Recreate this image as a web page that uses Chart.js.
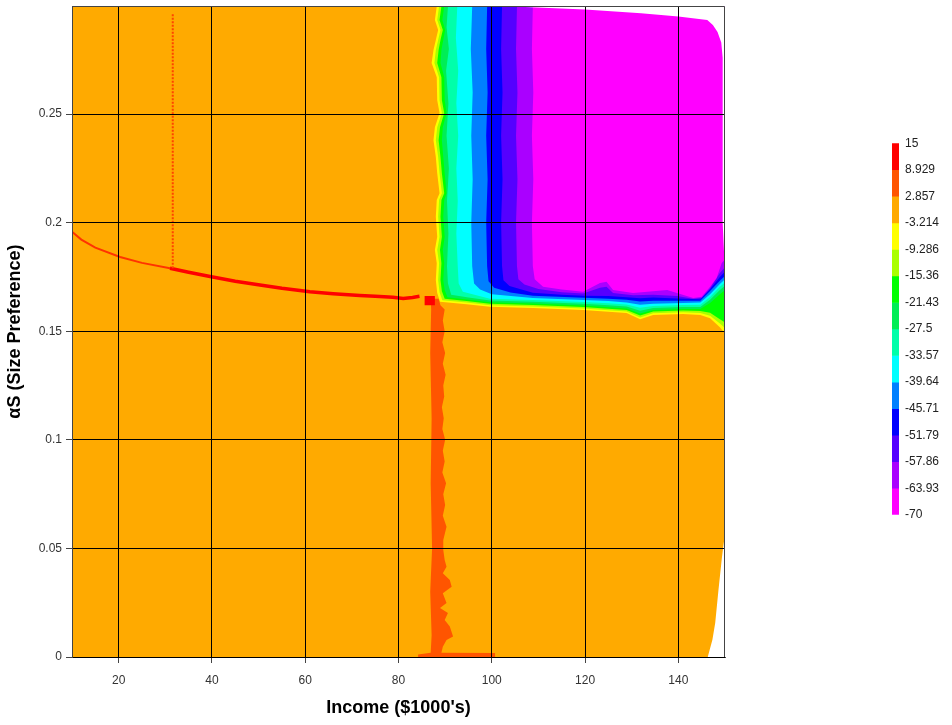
<!DOCTYPE html>
<html>
<head>
<meta charset="utf-8">
<title>Income vs size preference</title>
<script src="https://cdn.jsdelivr.net/npm/chart.js@4.4.1/dist/chart.umd.min.js"></script>
<style>
  body { margin: 0; background: #fff; overflow: hidden; }
  #wrap { position: relative; width: 952px; height: 725px; overflow: hidden; }
  #contourChart { position: absolute; left: 0; top: -5px; }
  #scaleBar { position: absolute; left: 880px; top: 130px; }
</style>
</head>
<body>
<div id="wrap">
  <canvas id="contourChart" width="952" height="730"></canvas>
  <canvas id="scaleBar" width="69" height="398"></canvas>
</div>
<script>
// Axis ranges and ticks
const X_MIN = 10, X_MAX = 150;
const Y_MIN = 0, Y_MAX = 0.2997;
const xTicks = [20, 40, 60, 80, 100, 120, 140];
const yTicks = [0, 0.05, 0.1, 0.15, 0.2, 0.25];

// Contour levels (top to bottom of the colour scale) and the colour of each band
const levels = [15, 8.929, 2.857, -3.214, -9.286, -15.36, -21.43, -27.5, -33.57, -39.64, -45.71, -51.79, -57.86, -63.93, -70];
const bandColors = ['#FF0000', '#FF5500', '#FFAA00', '#FFFF00', '#AAFF00', '#00FF00', '#00EE55',
                    '#00FFAA', '#00FFFF', '#0080FF', '#0000FF', '#5500FF', '#AA00FF', '#FF00FF'];

// Area where the surface was computed (orange band, -3.214 .. 2.857)
const domainEdge = [[10, 0], [146.3, 0], [147.3, 0.008], [147.9, 0.0157], [148.6, 0.0308], [149.3, 0.0450],
                    [149.7, 0.0520], [150, 0.0560], [150, Y_MAX], [10, Y_MAX]];

// Contour lines, each one runs down from the top edge and turns right towards x = 150
const edgeYellow = [[88.2, Y_MAX], [87.8, 0.2933], [88.5, 0.2887], [88.0, 0.2841], [87.5, 0.2795], [87.1, 0.2735],
  [88.2, 0.2670], [88.3, 0.2564], [88.8, 0.2505], [87.8, 0.2440], [87.5, 0.2380], [88.0, 0.2302], [88.3, 0.2228],
  [88.8, 0.2136], [88.2, 0.2104], [88.0, 0.2027], [88.3, 0.1935], [87.8, 0.1874], [88.2, 0.1813], [88.0, 0.1736],
  [88.3, 0.1676], [88.9, 0.1636], [94.6, 0.1625], [99.6, 0.1613], [108.8, 0.1607], [119.6, 0.1598], [125.0, 0.1590],
  [128.9, 0.1584], [131.8, 0.1555], [134.6, 0.1575], [141.0, 0.1580], [144.7, 0.1575], [146.8, 0.1560],
  [148.9, 0.1519], [150, 0.1490]];
const edgeLime = [[88.7, Y_MAX], [88.3, 0.2933], [89.0, 0.2887], [88.5, 0.2841], [88.0, 0.2795], [87.7, 0.2735],
  [88.7, 0.2670], [88.8, 0.2564], [89.3, 0.2505], [88.3, 0.2440], [88.0, 0.2380], [88.5, 0.2302], [88.8, 0.2228],
  [89.3, 0.2136], [88.7, 0.2104], [88.5, 0.2027], [88.8, 0.1935], [88.3, 0.1874], [88.7, 0.1813], [88.5, 0.1736],
  [88.8, 0.1680], [89.4, 0.1643], [94.6, 0.1632], [99.6, 0.1620], [108.8, 0.1614], [119.6, 0.1605], [125.0, 0.1597],
  [128.9, 0.1591], [131.8, 0.1564], [134.6, 0.1583], [141.0, 0.1588], [144.7, 0.1584], [146.8, 0.1572],
  [148.9, 0.1536], [150, 0.1515]];
const edgeGreen = [[89.2, Y_MAX], [88.8, 0.2933], [89.5, 0.2887], [89.0, 0.2841], [88.6, 0.2795], [88.3, 0.2735],
  [89.2, 0.2670], [89.3, 0.2564], [89.8, 0.2505], [88.9, 0.2440], [88.6, 0.2380], [89.0, 0.2302], [89.3, 0.2228],
  [89.8, 0.2136], [89.2, 0.2104], [89.0, 0.2027], [89.3, 0.1935], [88.9, 0.1874], [89.2, 0.1813], [89.0, 0.1736],
  [89.3, 0.1684], [89.9, 0.1650], [94.6, 0.1639], [99.6, 0.1627], [108.8, 0.1621], [119.6, 0.1612], [125.0, 0.1604],
  [128.9, 0.1598], [131.8, 0.1573], [134.6, 0.1591], [141.0, 0.1596], [144.7, 0.1593], [146.8, 0.1585],
  [148.9, 0.1555], [150, 0.1540]];
const edgeSpring = [[89.8, Y_MAX], [89.4, 0.2933], [90.0, 0.2887], [89.6, 0.2841], [89.2, 0.2795], [89.0, 0.2735],
  [89.8, 0.2670], [89.9, 0.2564], [90.3, 0.2505], [89.5, 0.2440], [89.3, 0.2380], [89.6, 0.2302], [89.9, 0.2228],
  [90.3, 0.2136], [89.8, 0.2104], [89.6, 0.2027], [89.9, 0.1935], [89.5, 0.1874], [89.8, 0.1813], [89.6, 0.1736],
  [89.9, 0.1690], [90.5, 0.1657], [94.6, 0.1646], [99.6, 0.1634], [108.8, 0.1628], [119.6, 0.1619], [125.0, 0.1611],
  [128.9, 0.1605], [131.8, 0.1582], [134.6, 0.1598], [141.0, 0.1603], [144.7, 0.1602], [146.8, 0.1630],
  [148.9, 0.1670], [150, 0.1690]];
const edgeAqua = [[90.6, Y_MAX], [90.3, 0.2900], [90.8, 0.2800], [90.2, 0.2700], [90.7, 0.2550], [90.3, 0.2400],
  [90.8, 0.2250], [90.4, 0.2100], [90.7, 0.1950], [90.4, 0.1800], [90.6, 0.1720], [91.3, 0.1668], [95.0, 0.1655],
  [99.6, 0.1642], [108.8, 0.1636], [119.6, 0.1627], [125.0, 0.1620], [128.9, 0.1614], [131.8, 0.1595],
  [134.6, 0.1607], [141.0, 0.1612], [144.7, 0.1612], [146.8, 0.1645], [148.9, 0.1690], [150, 0.1710]];
const edgeCyan = [[92.6, Y_MAX], [92.3, 0.2850], [92.8, 0.2700], [92.4, 0.2550], [92.8, 0.2400], [92.4, 0.2250],
  [92.7, 0.2100], [92.4, 0.1950], [92.7, 0.1800], [92.9, 0.1720], [93.8, 0.1682], [99.6, 0.1650], [108.8, 0.1644],
  [119.6, 0.1635], [125.0, 0.1629], [128.9, 0.1623], [131.8, 0.1608], [134.6, 0.1616], [141.0, 0.1621],
  [144.7, 0.1622], [146.8, 0.1658], [148.9, 0.1705], [150, 0.1725]];
const edgeAzure = [[95.8, Y_MAX], [95.5, 0.2800], [95.9, 0.2600], [95.6, 0.2400], [95.9, 0.2200], [95.6, 0.2000],
  [95.8, 0.1800], [96.2, 0.1720], [97.5, 0.1692], [100.0, 0.1670], [108.8, 0.1653], [119.6, 0.1644],
  [125.0, 0.1639], [128.9, 0.1633], [131.8, 0.1622], [134.6, 0.1627], [141.0, 0.1630], [144.7, 0.1632],
  [146.8, 0.1670], [148.9, 0.1718], [150, 0.1740]];
const edgeBlue = [[99.0, Y_MAX], [98.8, 0.2800], [99.1, 0.2600], [98.8, 0.2400], [99.1, 0.2200], [98.8, 0.2000],
  [99.0, 0.1800], [99.3, 0.1730], [100.5, 0.1700], [104.0, 0.1678], [108.8, 0.1664], [119.6, 0.1654],
  [125.0, 0.1650], [128.9, 0.1645], [131.8, 0.1637], [134.6, 0.1640], [141.0, 0.1640], [144.7, 0.1640],
  [146.8, 0.1685], [148.9, 0.1733], [150, 0.1755]];
const edgeViolet = [[102.2, Y_MAX], [102.0, 0.2800], [102.3, 0.2600], [102.0, 0.2400], [102.3, 0.2200],
  [102.0, 0.2000], [102.2, 0.1800], [102.5, 0.1735], [103.8, 0.1708], [108.8, 0.1677], [115.0, 0.1668],
  [119.6, 0.1664], [125.0, 0.1662], [128.9, 0.1657], [131.8, 0.1652], [134.6, 0.1655], [141.0, 0.1650],
  [144.7, 0.1648], [146.8, 0.1693], [148.9, 0.1750], [150, 0.1775]];
const edgePurple = [[105.4, Y_MAX], [105.2, 0.2800], [105.5, 0.2600], [105.2, 0.2400], [105.5, 0.2200],
  [105.2, 0.2000], [105.4, 0.1800], [105.7, 0.1740], [107.0, 0.1715], [110.0, 0.1695], [115.0, 0.1680],
  [119.6, 0.1674], [123.2, 0.1700], [124.6, 0.1705], [126.0, 0.1676], [130.3, 0.1666], [134.6, 0.1668],
  [139.7, 0.1662], [143.2, 0.1650], [145.0, 0.1654], [146.8, 0.1698], [148.9, 0.1768], [150, 0.1795]];
const edgeMagenta = [[108.8, Y_MAX], [108.6, 0.2800], [108.9, 0.2600], [108.6, 0.2400], [108.9, 0.2200],
  [108.6, 0.2000], [108.8, 0.1800], [109.2, 0.1740], [111.0, 0.1705], [115.0, 0.1692], [119.6, 0.1682],
  [123.2, 0.1722], [124.6, 0.1728], [126.0, 0.1690], [130.3, 0.1676], [137.6, 0.1690], [139.7, 0.1676],
  [143.2, 0.1653], [145.0, 0.1659], [146.8, 0.1705], [148.2, 0.1745], [149.3, 0.1814], [150, 0.1830]];
const contourEdges = [edgeYellow, edgeLime, edgeGreen, edgeSpring, edgeAqua, edgeCyan,
                      edgeAzure, edgeBlue, edgeViolet, edgePurple, edgeMagenta];

// No data in the top right corner
const emptyCorner = [[103.3, Y_MAX], [120, 0.2982], [132, 0.2965], [140, 0.2950], [146.2, 0.2933], [147.4, 0.2910],
  [148.4, 0.2878], [149.2, 0.2830], [149.5, 0.2760], [149.5, 0.2400], [149.5, 0.2000], [149.8, 0.1860],
  [150, 0.1840], [150, Y_MAX]];

// Ridge around income ~88 (band 2.857 .. 8.929)
const ridgeBand = [[86.9, 0.1650], [88.6, 0.1650], [89.0, 0.1620], [89.9, 0.1600], [89.5, 0.1550], [89.9, 0.1500],
  [89.4, 0.1450], [90.0, 0.1400], [89.5, 0.1350], [90.1, 0.1300], [89.6, 0.1250], [89.8, 0.1200], [89.3, 0.1150],
  [89.7, 0.1100], [89.4, 0.1050], [90.0, 0.1000], [89.5, 0.0950], [89.9, 0.0900], [89.4, 0.0850], [90.2, 0.0800],
  [89.6, 0.0750], [90.0, 0.0700], [89.5, 0.0650], [90.3, 0.0600], [89.6, 0.0539], [89.6, 0.0493], [89.9, 0.0447],
  [90.3, 0.0416], [89.5, 0.0386], [91.0, 0.0355], [91.4, 0.0324], [89.5, 0.0294], [90.3, 0.0249], [88.9, 0.0226],
  [90.6, 0.0203], [89.9, 0.0170], [91.0, 0.0140], [91.7, 0.0094], [90.3, 0.0078], [89.5, 0.0047], [89.2, 0.0020],
  [100.7, 0.0018], [100.7, 0], [84.2, 0], [84.2, 0.0012], [86.9, 0.0020], [87.1, 0.0100], [86.8, 0.0300],
  [87.2, 0.0500], [86.9, 0.0800], [87.1, 0.1100], [86.8, 0.1400], [87.0, 0.1600]];
const ridgePeak = [[85.6, 0.1662], [87.8, 0.1662], [87.8, 0.1620], [85.6, 0.1620]];

// Thin ridge lines (band 8.929 .. 15)
const ridgeCurveLeft = [[10, 0.1958], [12, 0.1922], [15, 0.1885], [20.3, 0.1842], [25, 0.1815], [31, 0.1790]];
const ridgeCurveRight = [[31, 0.1790], [35, 0.1772], [39.6, 0.1752], [45, 0.1730], [50.3, 0.1713], [55, 0.1698],
  [61, 0.1682], [66, 0.1673], [71.7, 0.1665], [75, 0.1661], [78.8, 0.1657], [81, 0.1651], [83, 0.1656], [84.5, 0.1661]];
const ridgeDots = [[31.6, 0.1790], [31.6, 0.2960]];

const tickFont = { family: "'Liberation Sans', Arial, sans-serif", size: 12 };
const titleFont = { family: "'Liberation Sans', Arial, sans-serif", size: 18, weight: 'bold' };

const toXY = pts => pts.map(p => ({ x: p[0], y: p[1] }));

// Filled polygon drawn as a closed line
function area(points, color) {
  return { data: toXY(points), backgroundColor: color, borderWidth: 0, pointRadius: 0, fill: 'shape', tension: 0 };
}
function stroke(points, color, width, dash) {
  return { data: toXY(points), borderColor: color, borderWidth: width, borderDash: dash || [],
           pointRadius: 0, fill: false, tension: 0 };
}

let datasets = [area(domainEdge, bandColors[2])];
contourEdges.forEach((edge, i) => {
  datasets.push(area(edge.concat([[X_MAX, Y_MAX]]), bandColors[i + 3]));
});
datasets.push(area(emptyCorner, '#FFFFFF'));
datasets.push(area(ridgeBand, bandColors[1]));
datasets.push(area(ridgePeak, bandColors[0]));
datasets.push(stroke(ridgeCurveLeft, '#FF3300', 2));
datasets.push(stroke(ridgeCurveRight, '#FF0000', 3.5));
datasets.push(stroke(ridgeDots, '#FF4400', 2, [2, 1.5]));
// first in the list is painted first
datasets.forEach((d, i) => { d.order = datasets.length - i; });

// top and right edges of the plot
const plotFrame = {
  id: 'plotFrame',
  afterDraw(chart) {
    const { ctx, chartArea: a } = chart;
    ctx.save();
    ctx.strokeStyle = '#444';
    ctx.lineWidth = 1;
    ctx.beginPath();
    ctx.moveTo(Math.round(a.left), Math.round(a.top) + 0.5);
    ctx.lineTo(Math.round(a.right) - 0.5, Math.round(a.top) + 0.5);
    ctx.lineTo(Math.round(a.right) - 0.5, Math.round(a.bottom));
    ctx.stroke();
    ctx.restore();
  }
};

new Chart(document.getElementById('contourChart'), {
  type: 'line',
  data: { datasets: datasets },
  plugins: [plotFrame],
  options: {
    responsive: false,
    animation: false,
    layout: { padding: { top: 6, right: 227, left: 0, bottom: 0 } },
    plugins: { legend: { display: false }, tooltip: { enabled: false } },
    scales: {
      x: {
        type: 'linear', min: X_MIN, max: X_MAX,
        afterBuildTicks: axis => { axis.ticks = xTicks.map(v => ({ value: v })); },
        afterFit: axis => { axis.height = 68; },
        grid: { color: '#000', lineWidth: 1, z: 1, tickLength: 6, tickColor: '#444' },
        border: { color: '#444', width: 1, z: 1 },
        ticks: { font: tickFont, color: '#333', padding: 10, maxRotation: 0, callback: v => String(v) },
        title: { display: true, text: "Income ($1000's)", font: titleFont, color: '#000', padding: { top: 0, bottom: 6 } }
      },
      y: {
        type: 'linear', min: Y_MIN, max: Y_MAX,
        afterBuildTicks: axis => { axis.ticks = yTicks.map(v => ({ value: v })); },
        afterFit: axis => { axis.width = 72; },
        grid: { color: '#000', lineWidth: 1, z: 1, tickLength: 6, tickColor: '#444' },
        border: { color: '#444', width: 1, z: 1 },
        ticks: { font: tickFont, color: '#333', padding: 4, callback: v => String(v) },
        title: { display: true, text: 'αS (Size Preference)', font: titleFont, color: '#000', padding: { top: 4, bottom: 0 } }
      }
    }
  }
});

// Colour scale next to the plot
new Chart(document.getElementById('scaleBar'), {
  type: 'bar',
  data: {
    labels: [''],
    datasets: bandColors.map((c, i) => ({
      data: [[levels[i + 1], levels[i]]],
      backgroundColor: c,
      borderWidth: 0,
      barPercentage: 1,
      categoryPercentage: 1,
      grouped: false
    }))
  },
  options: {
    responsive: false,
    animation: false,
    layout: { padding: { left: 12, top: 12, bottom: 12, right: 0 } },
    plugins: { legend: { display: false }, tooltip: { enabled: false } },
    scales: {
      x: { display: false },
      y: {
        position: 'right', min: levels[levels.length - 1], max: levels[0],
        afterBuildTicks: axis => { axis.ticks = levels.map(v => ({ value: v })); },
        afterFit: axis => { axis.width = 50; },
        grid: { display: false, drawTicks: false },
        border: { display: false },
        ticks: { font: tickFont, color: '#222', padding: 6, autoSkip: false, callback: v => String(v) }
      }
    }
  }
});
</script>
</body>
</html>
